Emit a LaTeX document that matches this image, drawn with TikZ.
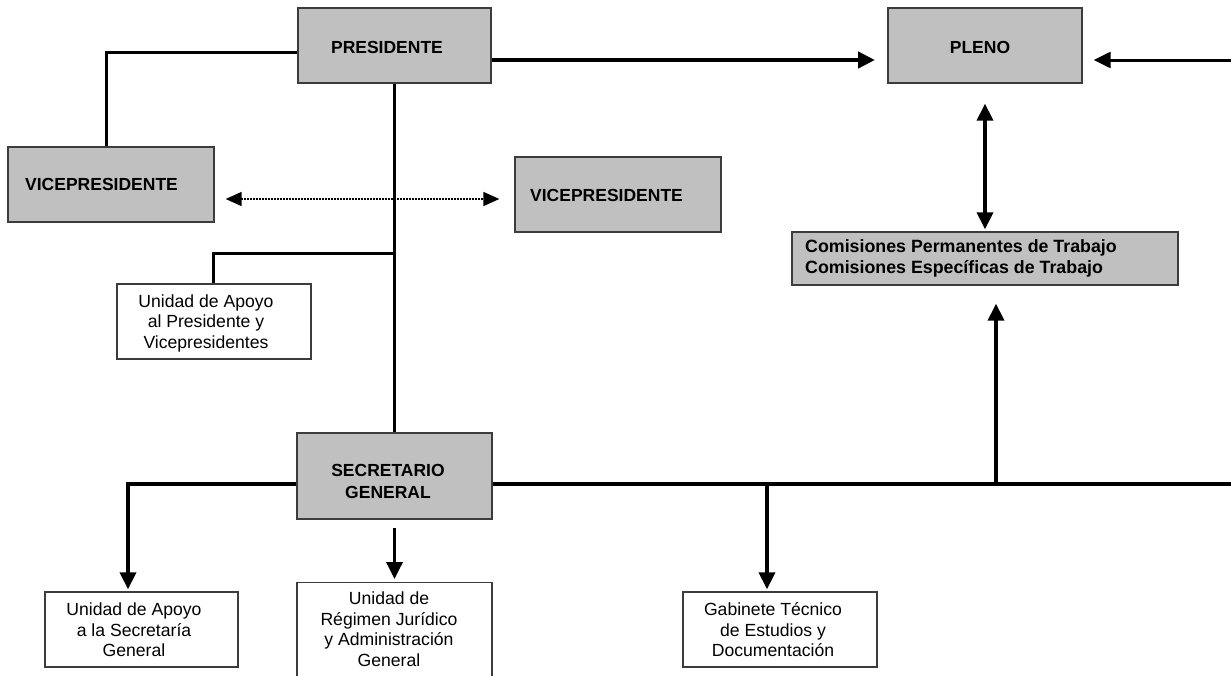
\documentclass[tikz,border=0pt]{standalone}
\usepackage{fontspec}
\setmainfont{Liberation Sans}
\usetikzlibrary{arrows.meta}
\definecolor{boxgray}{RGB}{192,192,192}
\definecolor{boxline}{RGB}{60,60,60}
\begin{document}
\begin{tikzpicture}[x=1pt,y=-1pt,
  gbox/.style={draw=boxline, line width=1.3pt, fill=boxgray, inner sep=0pt},
  wbox/.style={draw=boxline, line width=1.3pt, fill=white, inner sep=0pt},
  btxt/.style={font=\fontsize{17.5}{22}\selectfont\bfseries, inner sep=0pt, align=center},
  rtxt/.style={font=\fontsize{17.6}{20.5}\selectfont, inner sep=0pt, align=center},
  conn/.style={line width=3.5pt},
  tip/.style={-{Triangle[length=17pt,width=16pt]}},
  dtip/.style={{Triangle[length=17pt,width=16pt]}-{Triangle[length=17pt,width=16pt]}},
]
\fill[white] (0,0) rectangle (1231,675);
\useasboundingbox (0,0) rectangle (1231,675);

% boxes
\node[gbox, minimum width=193pt, minimum height=75pt] (pres) at (394.5,45.5) {};
\node[btxt] (presT) at (387,47) {PRESIDENTE};
\node[gbox, minimum width=194pt, minimum height=75pt] (pleno) at (985,45.5) {};
\node[btxt] (plenoT) at (980,47) {PLENO};
\node[gbox, minimum width=206pt, minimum height=75pt] (vpl) at (111,184.5) {};
\node[btxt, anchor=west] (vplT) at (25,184) {VICEPRESIDENTE};
\node[gbox, minimum width=206pt, minimum height=75pt] (vpr) at (618,194.5) {};
\node[btxt, anchor=west] (vprT) at (530,195) {VICEPRESIDENTE};
\node[gbox, minimum width=386pt, minimum height=53pt] (com) at (985,258.5) {};
\node[btxt, anchor=west, align=left, font=\fontsize{17.8}{21}\selectfont\bfseries] (comT) at (805,258.5) {Comisiones Permanentes de Trabajo\\Comisiones Específicas de Trabajo};
\node[wbox, minimum width=194pt, minimum height=75pt] (up) at (214,321.5) {};
\node[rtxt] (upT) at (206,323) {Unidad de Apoyo\\al Presidente y\\Vicepresidentes};
\node[gbox, minimum width=195pt, minimum height=86pt] (sec) at (394.5,476) {};
\node[btxt] (secT) at (388,481) {SECRETARIO\\GENERAL};
\node[wbox, minimum width=193pt, minimum height=75pt] (uasg) at (141.5,629.5) {};
\node[rtxt] (uasgT) at (134,630) {Unidad de Apoyo\\a la Secretaría\\General};
\node[wbox, minimum width=195pt, minimum height=110pt, anchor=north] (urj) at (394.5,582) {};
\node[rtxt] (urjT) at (389,629) {Unidad de\\Régimen Jurídico\\y Administración\\General};
\node[wbox, minimum width=194pt, minimum height=75pt] (gab) at (780,629.5) {};
\node[rtxt] (gabT) at (773,630) {Gabinete Técnico\\de Estudios y\\Documentación};

% junction coordinates
\coordinate (j1) at (106,52);
\coordinate (pp) at (875,60);
\coordinate (rin) at (1231,60);
\coordinate (j2) at (394.5,253);
\coordinate (j3) at (213,253);
\coordinate (hl) at (128,484);
\coordinate (hr) at (1231,484);
\coordinate (jg) at (767,484);
\coordinate (ju) at (996,484);

% connectors
\draw[line width=3pt] (pres.west |- j1) -- (j1) -- (vpl.north -| j1);
\draw[line width=4.8pt, tip] (pres.east |- pp) -- (pp);
\draw[line width=3pt, tip] (rin) -- ([xshift=11pt]pleno.east |- rin);
\draw[conn] (pres.south) -- (sec.north);
\draw[line width=3pt] (j2) -- (j3) -- (j3 |- up.north);
\draw[line width=1.5pt, dash pattern=on 1.5pt off 1.5pt, {Triangle[length=16pt,width=14pt]}-{Triangle[length=16pt,width=14pt]}]
  ([xshift=11pt,yshift=-14.5pt]vpl.east) -- ([xshift=-15pt,yshift=-4.5pt]vpr.west);
\draw[conn, dtip] ([yshift=-20pt]pleno.south) -- ([yshift=2pt]com.north);
\draw[conn, tip] ([yshift=-8pt]sec.west) -- (hl) -- ([yshift=2pt]hl |- uasg.north);
\draw[conn] ([yshift=-8pt]sec.east) -- (hr);
\draw[conn, tip] ([yshift=-8pt]sec.south) -- ([yshift=3pt]urj.north);
\draw[conn, tip] (jg) -- ([yshift=2pt]jg |- gab.north);
\draw[conn, tip] (ju) -- ([yshift=-18pt]ju |- com.south);
\end{tikzpicture}
\end{document}
